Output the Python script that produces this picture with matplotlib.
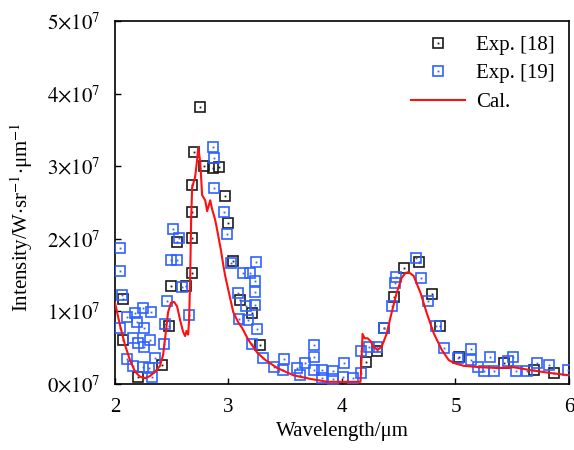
import matplotlib
matplotlib.use("Agg")
import matplotlib.pyplot as plt
import numpy as np
from matplotlib.legend_handler import HandlerTuple
from matplotlib.ticker import FuncFormatter

plt.rcParams['font.family'] = ['Liberation Serif', 'DejaVu Serif']
plt.rcParams['mathtext.fontset'] = 'stix'

# Exp. [18] (values in 1e7 W sr^-1 um^-1)
exp18_x = [2.07, 2.07, 2.20, 2.41, 2.48, 2.49, 2.55, 2.63, 2.68, 2.68, 2.68, 2.68,
           2.70, 2.75, 2.78, 2.86, 2.92, 2.97, 3.00, 3.04, 3.10, 3.21, 3.28,
           4.21, 4.31, 4.37, 4.46, 4.55, 4.68, 4.79, 4.86, 5.03, 5.43, 5.69, 5.87]
exp18_y = [1.17, 0.61, 0.10, 0.26, 0.80, 1.35, 1.96, 1.35, 1.53, 2.01, 2.37, 2.74,
           3.20, 3.82, 3.00, 2.98, 2.99, 2.59, 2.22, 1.69, 1.16, 0.98, 0.54,
           0.30, 0.46, 0.77, 1.20, 1.60, 1.68, 1.24, 0.80, 0.37, 0.29, 0.19, 0.15]

# Exp. [19]
exp19_x = [2.04, 2.04, 2.06, 2.04, 2.11, 2.18, 2.25, 2.32, 2.19, 2.26, 2.16, 2.20,
           2.26, 2.31, 2.43, 2.11, 2.16, 2.25, 2.30, 2.35, 2.33, 2.46, 2.44, 2.49,
           2.55, 2.51, 2.56, 2.59, 2.65, 2.86, 2.87, 2.87, 2.96, 2.99, 3.02, 3.13,
           3.19, 3.24, 3.23, 3.08, 3.23, 3.15, 3.23, 3.09, 3.17, 3.25, 3.21, 3.30,
           3.40, 3.48, 3.49, 3.60, 3.63, 3.67, 3.75, 3.75, 3.75, 3.82, 3.82, 3.92,
           3.92, 4.02, 4.01, 4.10, 4.17, 4.17, 4.24, 4.31, 4.37, 4.44, 4.47, 4.48,
           4.65, 4.70, 4.76, 4.83, 4.90, 5.02, 5.14, 5.14, 5.20, 5.25, 5.30, 5.34,
           5.46, 5.51, 5.53, 5.63, 5.72, 5.82, 5.99]
exp19_y = [1.87, 1.56, 1.23, 0.77, 0.92, 0.98, 1.05, 0.99, 0.85, 0.77, 0.63, 0.57,
           0.51, 0.61, 0.55, 0.34, 0.25, 0.23, 0.22, 0.36, 0.10, 1.14, 0.83, 1.71,
           1.71, 2.14, 2.01, 1.34, 0.95, 3.26, 3.11, 2.70, 2.37, 2.07, 1.67, 1.53,
           1.53, 1.68, 1.42, 1.25, 1.27, 1.07, 1.09, 0.90, 0.88, 0.76, 0.55, 0.36,
           0.23, 0.19, 0.34, 0.22, 0.12, 0.29, 0.54, 0.37, 0.19, 0.19, 0.08, 0.18,
           0.07, 0.29, 0.10, 0.08, 0.15, 0.46, 0.51, 0.51, 0.77, 1.07, 1.39, 1.47,
           1.74, 1.46, 1.14, 0.80, 0.50, 0.36, 0.48, 0.33, 0.23, 0.18, 0.37, 0.18,
           0.32, 0.37, 0.18, 0.18, 0.29, 0.26, 0.19]

# Cal.
cal_x = [2.000, 2.044, 2.088, 2.132, 2.177, 2.221, 2.265, 2.309, 2.353, 2.397, 2.424,
         2.450, 2.468, 2.494, 2.521, 2.547, 2.574, 2.600, 2.618, 2.630, 2.645, 2.653,
         2.662, 2.671, 2.680, 2.706, 2.724, 2.733, 2.751, 2.768, 2.795, 2.812, 2.839,
         2.857, 2.883, 2.909, 2.936, 2.954, 2.971, 2.998, 3.042, 3.086, 3.121, 3.174,
         3.254, 3.325, 3.430, 3.572, 3.722, 3.872, 4.031, 4.163, 4.172, 4.181, 4.199,
         4.225, 4.252, 4.278, 4.313, 4.349, 4.393, 4.437, 4.481, 4.525, 4.560, 4.587,
         4.631, 4.693, 4.746, 4.808, 4.879, 4.940, 4.985, 5.073, 5.223, 5.373, 5.514,
         5.664, 5.841, 6.000]
cal_y = [1.12, 0.81, 0.54, 0.33, 0.17, 0.10, 0.08, 0.11, 0.17, 0.25, 0.40,
         0.74, 0.99, 1.12, 1.13, 1.07, 0.88, 0.72, 0.66, 0.73, 0.68, 0.88,
         1.43, 2.26, 2.71, 2.85, 3.09, 3.26, 3.06, 2.60, 2.53, 2.38, 2.53,
         2.40, 2.26, 2.05, 1.82, 1.64, 1.49, 1.30, 0.99, 0.85, 0.77, 0.61,
         0.43, 0.33, 0.22, 0.12, 0.07, 0.03, 0.03, 0.03, 0.33, 0.69, 0.63,
         0.63, 0.59, 0.51, 0.47, 0.51, 0.69, 0.98, 1.25, 1.46, 1.53, 1.54,
         1.49, 1.25, 0.98, 0.70, 0.47, 0.33, 0.29, 0.25, 0.23, 0.22, 0.23,
         0.19, 0.15, 0.12]

scale = 1e7
blue = '#2f62ff'

fig = plt.figure(figsize=(5.74, 4.5), dpi=100)
ax = fig.add_axes([0.2003, 0.1467, 0.7910, 0.8067])

sq18, = ax.plot(exp18_x, np.array(exp18_y) * scale, 's', ms=7.2, mfc='none',
                mec='#1a1a1a', mew=1.2, zorder=2)
dot18, = ax.plot(exp18_x, np.array(exp18_y) * scale, 's', ms=1.3, mfc='#1a1a1a',
                 mec='none', zorder=2)
sq19, = ax.plot(exp19_x, np.array(exp19_y) * scale, 's', ms=7.2, mfc='none',
                mec=blue, mew=1.2, zorder=3)
dot19, = ax.plot(exp19_x, np.array(exp19_y) * scale, 's', ms=1.3, mfc=blue,
                 mec='none', zorder=3)
cal, = ax.plot(cal_x, np.array(cal_y) * scale, '-', color='#ff1010', lw=1.5, zorder=4)

ax.set_xlim(2, 6)
ax.set_ylim(0, 5e7)
ax.set_xticks([2, 3, 4, 5, 6])
ax.set_yticks(np.arange(6) * scale)
ax.yaxis.set_major_formatter(FuncFormatter(lambda v, p: r'$%d{\times}10^{7}$' % round(v / scale)))
ax.tick_params(direction='in', length=4, width=1, labelsize=15, pad=10)

for s in ax.spines.values():
    s.set_linewidth(1.2)

ax.set_xlabel('Wavelength/μm', fontsize=15, labelpad=4)
ax.set_ylabel(r'Intensity/W$\cdot$sr$^{-1}$$\cdot$μm$^{-1}$', fontsize=15, labelpad=6)
ax.yaxis.set_label_coords(-0.176, 0.46)

ax.legend([(sq18, dot18), (sq19, dot19), cal], ['Exp. [18]', 'Exp. [19]', 'Cal.'],
          handler_map={tuple: HandlerTuple(ndivide=1)},
          loc='upper right', frameon=False, fontsize=15, handlelength=2.6,
          handletextpad=0.5, labelspacing=0.42, borderaxespad=0.3)

plt.savefig('out.png', dpi=100)
